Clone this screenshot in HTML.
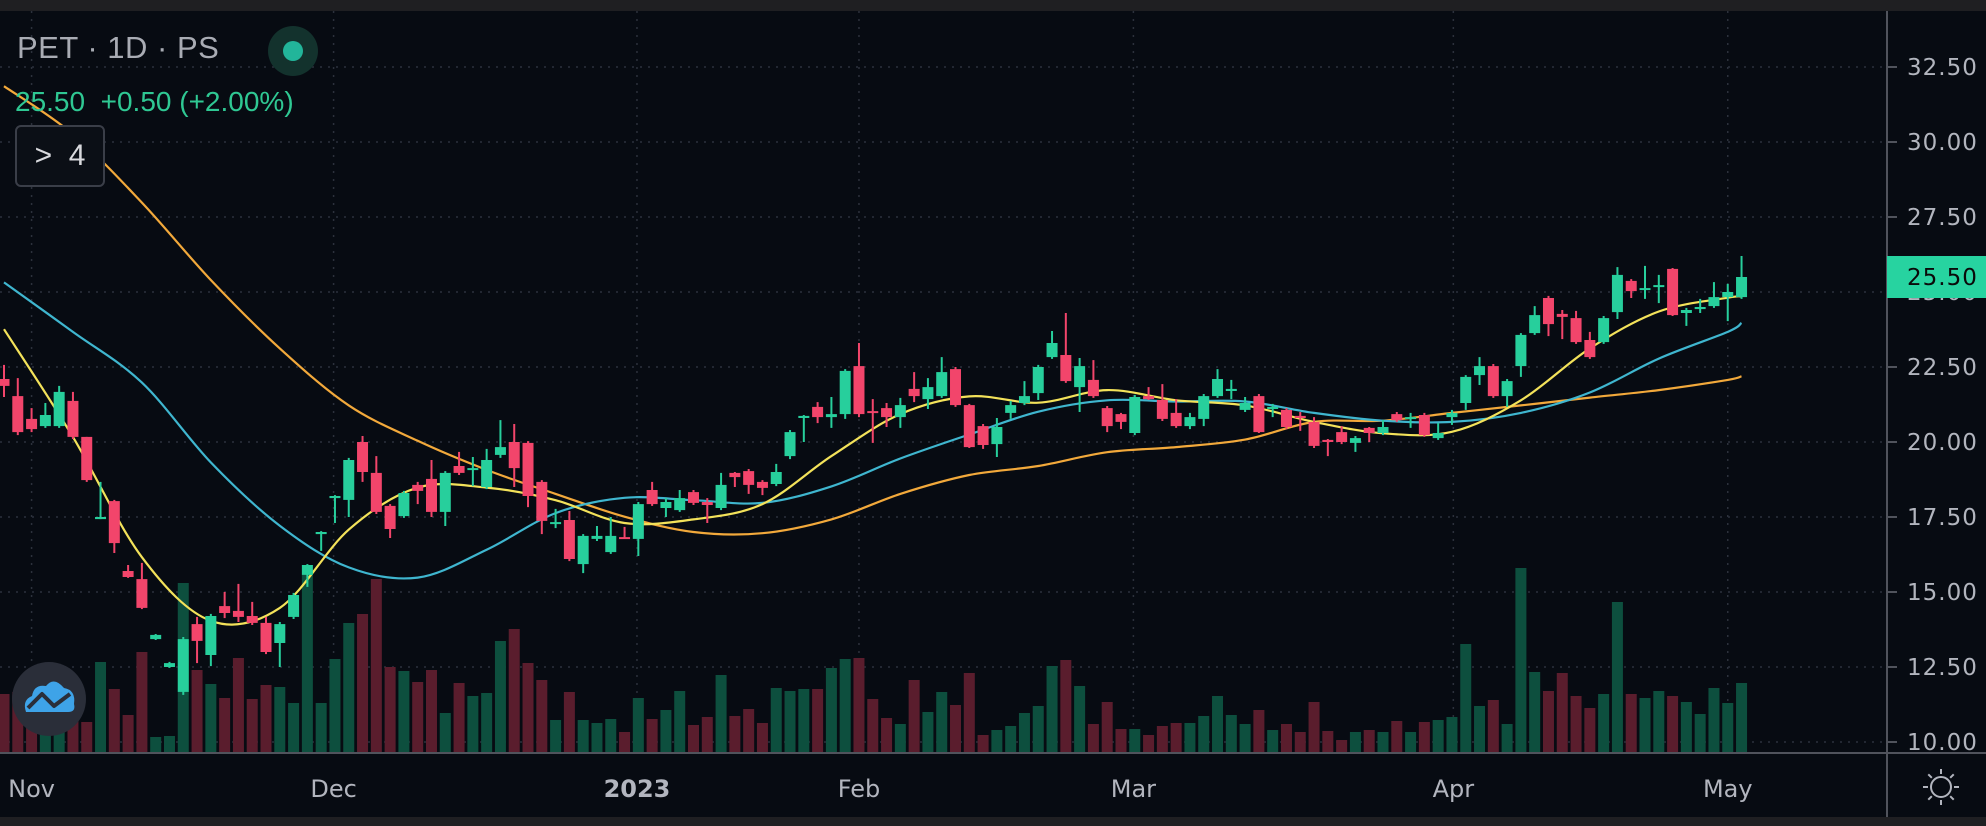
<!DOCTYPE html>
<html>
<head>
<meta charset="utf-8">
<style>
html,body{margin:0;padding:0;background:#070b12;}
body{width:1986px;height:826px;overflow:hidden;position:relative;font-family:"Liberation Sans",sans-serif;}
#topbar{position:absolute;left:0;top:0;width:1986px;height:11px;background:#1f1f22;}
#botbar{position:absolute;left:0;top:817px;width:1986px;height:9px;background:#1f1f22;}
svg{position:absolute;left:0;top:0;}
.legend{position:absolute;left:17px;top:30px;color:#a9acb4;font-size:31px;letter-spacing:0.5px;}
.quote{position:absolute;left:15px;top:86px;color:#2fc893;font-size:28px;}
.expbox{position:absolute;left:15px;top:125px;width:86px;height:58px;border:2px solid #3a3e48;border-radius:6px;background:#0b0f16;color:#d8d9dd;font-size:30px;line-height:58px;text-align:center;}
</style>
</head>
<body>
<div id="topbar"></div>
<svg id="chart" width="1986" height="826"></svg>
<div class="legend">PET · 1D · PS</div>
<div class="quote">25.50&nbsp; +0.50 (+2.00%)</div>
<div class="expbox">&gt;&nbsp; 4</div>
<div id="botbar"></div>
<script>
const opens=[22.10,21.53,20.77,20.53,20.53,21.37,20.17,17.43,18.03,15.70,15.43,13.43,12.50,11.67,13.93,12.90,14.53,14.37,14.20,13.97,13.30,14.17,15.57,16.93,18.13,18.07,20.00,18.97,17.87,17.53,18.57,18.77,17.67,19.20,19.07,18.50,19.57,20.00,19.97,18.67,17.27,17.40,15.93,16.77,16.33,16.83,16.77,18.40,17.80,17.73,18.33,18.00,17.80,18.97,19.03,18.67,18.60,19.53,20.80,21.17,20.83,20.93,22.53,21.03,21.13,20.83,21.77,21.43,21.53,22.43,21.23,20.53,19.93,20.97,21.30,21.63,22.83,22.90,21.83,22.07,21.13,20.93,20.30,21.53,21.40,20.97,20.53,20.77,21.53,21.70,21.07,21.53,21.10,21.07,20.87,20.67,20.07,20.33,19.97,20.47,20.30,20.93,20.77,20.90,20.13,20.83,21.30,22.23,22.53,21.53,22.53,23.63,24.80,24.27,24.13,23.40,23.33,24.33,25.37,25.07,25.17,25.77,24.30,24.43,24.53,24.83,24.83];
const closes=[21.87,20.33,20.43,20.90,21.67,20.17,18.73,17.50,16.63,15.50,14.47,13.57,12.63,13.43,13.37,14.20,14.30,14.17,13.97,13.00,13.93,14.90,15.90,17.00,18.20,19.40,19.00,17.67,17.10,18.30,18.37,17.67,18.97,18.97,19.13,19.40,19.83,19.13,18.20,17.37,17.33,16.10,16.87,16.87,16.87,16.80,17.93,17.93,18.00,18.13,17.97,17.90,18.57,18.83,18.57,18.47,19.00,20.33,20.87,20.83,20.93,22.37,20.93,20.97,20.83,21.23,21.53,21.83,22.33,21.23,19.83,19.90,20.50,21.23,21.53,22.50,23.30,22.03,22.53,21.53,20.53,20.67,21.50,21.43,20.77,20.53,20.83,21.53,22.10,21.77,21.30,20.33,21.17,20.50,20.80,19.87,20.00,20.00,20.13,20.30,20.50,20.73,20.83,20.23,20.30,20.97,22.17,22.53,21.53,22.03,23.57,24.23,23.93,24.17,23.33,22.83,24.13,25.57,25.03,25.13,25.23,24.23,24.40,24.50,24.83,25.00,25.50];
const highs=[22.57,22.13,21.13,21.30,21.87,21.67,20.17,18.67,18.07,15.90,15.97,13.60,12.67,13.50,14.17,14.27,15.00,15.27,14.67,14.17,14.00,14.97,15.93,17.03,18.23,19.47,20.20,19.53,17.93,18.37,18.67,19.40,19.03,19.67,19.50,19.77,20.73,20.60,20.03,18.73,17.77,17.70,16.93,17.20,17.50,17.17,18.00,18.67,18.13,18.40,18.40,18.13,18.97,19.00,19.10,18.73,19.27,20.40,20.90,21.33,21.50,22.43,23.30,21.43,21.30,21.47,22.33,22.13,22.83,22.50,21.27,20.60,20.80,21.37,22.03,22.57,23.70,24.30,22.80,22.73,21.20,20.97,21.57,21.83,21.93,21.43,20.97,21.60,22.43,22.07,21.50,21.60,21.27,21.13,21.00,20.83,20.10,20.53,20.20,20.50,20.73,21.00,20.97,20.97,20.63,21.07,22.23,22.83,22.60,22.10,23.63,24.53,24.87,24.40,24.37,23.67,24.20,25.83,25.43,25.87,25.57,25.80,24.47,24.77,25.33,25.27,26.20];
const lows=[21.50,20.23,20.33,20.47,20.47,20.10,18.67,17.43,16.30,15.47,14.43,13.40,12.47,11.57,12.63,12.53,14.13,14.00,13.90,12.93,12.50,14.10,15.17,16.37,17.30,17.50,18.67,17.60,16.80,17.47,17.93,17.50,17.20,18.90,18.53,18.43,19.47,18.50,17.83,16.93,17.13,16.03,15.63,16.70,16.27,16.77,16.20,17.87,17.50,17.67,17.90,17.30,17.73,18.50,18.27,18.23,18.53,19.43,20.00,20.63,20.47,20.77,20.83,19.97,20.50,20.47,21.33,21.10,21.47,21.17,19.80,19.77,19.50,20.77,21.23,21.40,22.77,21.97,21.00,21.47,20.33,20.43,20.23,21.40,20.70,20.47,20.43,20.53,21.47,21.43,21.00,20.30,20.83,20.43,20.37,19.80,19.53,19.93,19.67,20.00,20.23,20.67,20.47,20.17,20.07,20.57,21.07,21.90,21.47,21.17,22.17,23.57,23.53,23.43,23.27,22.77,23.27,24.10,24.80,24.77,24.63,24.20,23.87,24.30,24.47,24.03,24.77];
const volumes=[58,60,52,20,20,62,30,90,63,37,100,15,16,169,82,68,54,94,53,67,65,49,177,49,93,129,138,173,85,81,70,82,39,69,56,59,111,123,89,72,32,60,32,29,33,20,54,33,42,61,27,35,77,36,43,29,64,61,63,63,84,93,94,53,34,28,72,40,60,47,79,17,22,26,39,46,86,92,66,28,50,23,23,17,26,29,29,36,56,37,28,42,22,28,20,50,21,12,20,22,20,31,20,30,32,35,108,46,52,28,184,80,61,79,56,44,58,150,58,54,61,56,50,38,64,49,69];
const maIdx=[0,5,10,15,20,25,30,35,40,45,50,55,60,65,70,75,80,85,90,95,100,105,110,115,120,125,126];
const maFast=[23.76,20.17,16.16,14.04,14.47,17.08,18.48,18.48,18.06,17.30,17.42,17.93,19.53,20.93,21.52,21.31,21.73,21.39,21.22,20.67,20.29,20.34,21.39,23.12,24.35,24.81,24.85];
const maMid=[25.32,23.67,21.98,19.32,17.21,15.82,15.48,16.41,17.63,18.14,18.06,17.97,18.52,19.45,20.25,21.01,21.39,21.35,21.35,20.97,20.71,20.67,20.97,21.65,22.78,23.67,23.97];
const maSlow=[31.86,30.26,27.98,25.40,23.12,21.22,20.04,19.07,18.27,17.51,17.00,16.96,17.42,18.27,18.90,19.20,19.66,19.83,20.08,20.67,20.71,20.97,21.22,21.48,21.73,22.07,22.19];
const priceTicks=[32.5,30,27.5,25,22.5,20,17.5,15,12.5,10];
const monthLabels=["Nov","Dec","2023","Feb","Mar","Apr","May"];
const monthIdx=[2,23.9,45.9,62,81.9,105.1,125];

const NS="http://www.w3.org/2000/svg";
const svg=document.getElementById('chart');
const PLOT_R=1887, AXIS_Y=752;
function yP(p){return 67+(32.5-p)*30;}
function xI(i){return 4+13.79*i;}
function yV(v){return AXIS_Y-v;}
function mk(tag,attrs,parent){const e=document.createElementNS(NS,tag);for(const k in attrs)e.setAttribute(k,attrs[k]);(parent||svg).appendChild(e);return e;}

const grid=mk('g',{});


priceTicks.forEach(p=>{
  const l=mk('line',{x1:0,x2:PLOT_R,y1:yP(p),y2:yP(p),stroke:'#2c313c','stroke-width':1.5,'stroke-dasharray':'2 6'},grid);
  
  
});
monthIdx.forEach(i=>{
  const l=mk('line',{x1:xI(i),x2:xI(i),y1:11,y2:AXIS_Y,stroke:'#2c313c','stroke-width':1.5,'stroke-dasharray':'2 6'},grid);
  
  
});

const vg=mk('g',{});


volumes.forEach((v,i)=>{
  const up=closes[i]>=opens[i];
  const r=mk('rect',{x:xI(i)-5.5,y:yV(v),width:11,height:v,fill:up?'#0d4f3e':'#5a1d2d'},vg);
  
  
});

function maLine(vals,color,name){
  const pts=vals.map((v,k)=>[xI(maIdx[k]),yP(v)]);
  let d='M'+pts[0][0].toFixed(1)+' '+pts[0][1].toFixed(1);
  for(let k=0;k<pts.length-1;k++){
    const p0=pts[Math.max(0,k-1)],p1=pts[k],p2=pts[k+1],p3=pts[Math.min(pts.length-1,k+2)];
    const c1=[p1[0]+(p2[0]-p0[0])/6,p1[1]+(p2[1]-p0[1])/6];
    const c2=[p2[0]-(p3[0]-p1[0])/6,p2[1]-(p3[1]-p1[1])/6];
    d+='C'+c1[0].toFixed(1)+' '+c1[1].toFixed(1)+' '+c2[0].toFixed(1)+' '+c2[1].toFixed(1)+' '+p2[0].toFixed(1)+' '+p2[1].toFixed(1);
  }
  const p=mk('path',{d:d,fill:'none',stroke:color,'stroke-width':2.2,'stroke-linejoin':'round'});
  
  
}
maLine(maSlow,'#f2a93b','ma-slow-line');
maLine(maMid,'#3fb6cf','ma-mid-line');
maLine(maFast,'#f3e25a','ma-fast-line');

const cg=mk('g',{});


opens.forEach((o,i)=>{
  const c=closes[i],up=c>=o,col=up?'#27cf9c':'#f2456b',x=xI(i);
  const w=mk('line',{x1:x,x2:x,y1:yP(highs[i]),y2:yP(lows[i]),stroke:col,'stroke-width':2},cg);
  
  
  const top=yP(Math.max(o,c)),h=Math.max(2,yP(Math.min(o,c))-top);
  const b=mk('rect',{x:x-5.5,y:top,width:11,height:h,fill:col},cg);
  
  
});

const ax=mk('g',{});


mk('rect',{x:PLOT_R,y:11,width:1986-PLOT_R,height:806,fill:'#070b12'},ax);
mk('line',{x1:PLOT_R,x2:PLOT_R,y1:11,y2:817,stroke:'#50535c','stroke-width':2},ax);
mk('line',{x1:0,x2:1986,y1:AXIS_Y+1,y2:AXIS_Y+1,stroke:'#50535c','stroke-width':2},ax);
priceTicks.forEach(p=>{
  mk('line',{x1:PLOT_R,x2:PLOT_R+10,y1:yP(p),y2:yP(p),stroke:'#50535c','stroke-width':2},ax);
  const t=mk('text',{x:1907,y:yP(p)+8,fill:'#b2b5be','font-size':23,'font-family':'"DejaVu Sans",sans-serif','letter-spacing':'1'},ax);
  t.textContent=p.toFixed(2);
  
  
});
monthLabels.forEach((m,k)=>{
  const t=mk('text',{x:xI(monthIdx[k]),y:797,fill:'#b2b5be','font-size':24,'text-anchor':'middle','font-weight':m==='2023'?'bold':'normal','font-family':'"DejaVu Sans",sans-serif'},ax);
  t.textContent=m;
  
  
});
const tag=mk('g',{});


const lastY=yP(closes[closes.length-1]);
mk('rect',{x:PLOT_R,y:lastY-21,width:1986-PLOT_R,height:42,fill:'#27d3a0'},tag);
const lt=mk('text',{x:1907,y:lastY+8,fill:'#0a0a0a','font-size':23,'font-family':'"DejaVu Sans",sans-serif','letter-spacing':'1'},tag);
lt.textContent=closes[closes.length-1].toFixed(2);

const dot=mk('g',{});


mk('circle',{cx:293,cy:51,r:25,fill:'#13322d'},dot);
mk('circle',{cx:293,cy:51,r:10,fill:'#22b59a'},dot);

const logo=mk('g',{});


mk('circle',{cx:49,cy:699,r:37,fill:'#2a2e39'},logo);
mk('path',{d:'M26 712 Q22 700 32 696 Q34 684 46 686 Q54 676 64 688 Q76 690 74 704 Q76 712 68 712 Z',fill:'#3ea3e8'},logo);
mk('path',{d:'M28 708 L42 694 L54 706 L70 694',fill:'none',stroke:'#2a2e39','stroke-width':4,'stroke-linejoin':'round'},logo);

const sun=mk('g',{fill:'none',stroke:'#b2b5be','stroke-width':2});


mk('circle',{cx:1941,cy:787,r:10},sun);
for(let a=0;a<8;a++){const r=a*Math.PI/4;mk('line',{x1:1941+Math.cos(r)*13,y1:787+Math.sin(r)*13,x2:1941+Math.cos(r)*18,y2:787+Math.sin(r)*18},sun);}
</script>
</body>
</html>
